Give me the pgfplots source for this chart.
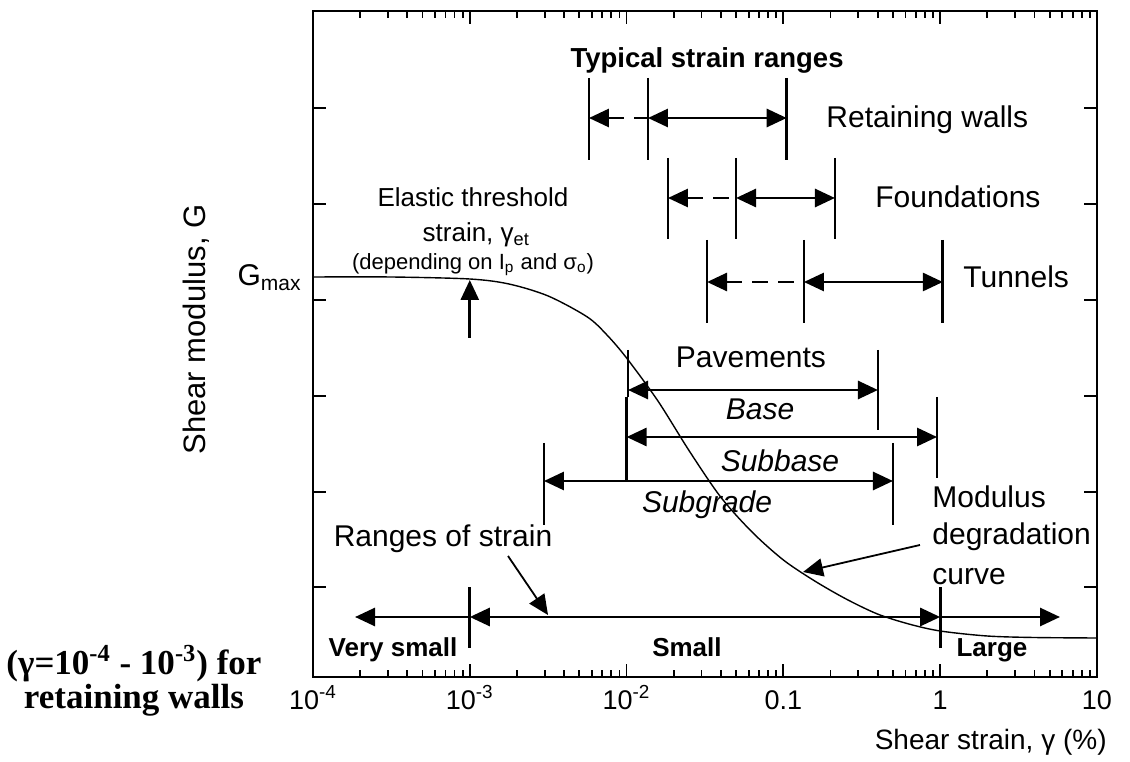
\documentclass[border=0pt]{standalone}
\usepackage{fontspec}
\setmainfont{Liberation Sans}
\newfontfamily\timesfont{Liberation Serif}
\usepackage{pgfplots}
\pgfplotsset{compat=1.18}
\usetikzlibrary{arrows.meta}
\newcommand\fs[1]{\fontsize{#1}{#1}\selectfont}
\tikzset{
  tip/.tip={Triangle[length=10pt,width=9pt]},
  rng/.style={line width=1.4pt, {tip}-{tip}},
  lrng/.style={line width=1.4pt, {tip}-},
  rrng/.style={line width=1.4pt, -{tip}},
  drng/.style={line width=1.4pt, {tip}-, dash pattern=on 8pt off 5pt},
  bar/.style={line width=1.4pt},
  ptr/.style={line width=0.9pt, -{Triangle[length=10pt,width=9pt]}},
  txt/.style={inner sep=0pt, text height=0.72em, text depth=0.2em, yshift=-2.25pt},
}
\begin{document}
\begin{tikzpicture}
\begin{axis}[
  scale only axis, width=392pt, height=333pt,
  xmode=log, xmin=1e-4, xmax=10, ymin=0, ymax=666,
  xticklabels={,10\textsuperscript{-4},10\textsuperscript{-3},10\textsuperscript{-2},0.1,1,10},
  ytick={90,185,281,377,473,569}, yticklabels={},
  tick align=inside, major tick length=6.5pt, minor tick length=3.5pt,
  every tick/.style={black, line width=0.9pt},
  axis line style={line width=1.3pt},
  xticklabel style={font=\fs{13.5}, text height=0.95em, text depth=0.2em, yshift=-3pt},
  clip=false,
]
% modulus degradation curve
\addplot[black, line width=0.7pt, smooth] coordinates {
 (1e-4,400) (3.162e-4,400) (1e-3,398) (1.778e-3,393) (3.162e-3,381)
 (5.623e-3,360) (7.499e-3,342) (1e-2,319) (1.585e-2,276) (2.512e-2,226) (3.981e-2,180)
 (6.310e-2,145) (0.1,117) (0.1585,96) (0.2512,78) (0.3981,63)
 (0.631,53) (1,46) (1.995,41) (3.981,39.5) (10,39)};

% Retaining walls
\addplot[bar] coordinates {(5.754e-3,599) (5.754e-3,517)};
\addplot[bar] coordinates {(1.369e-2,599) (1.369e-2,517)};
\addplot[bar] coordinates {(0.105,599) (0.105,517)};
\addplot[drng] coordinates {(5.754e-3,559) (1.369e-2,559)};
\addplot[rng] coordinates {(1.369e-2,559) (0.105,559)};
% Foundations
\addplot[bar] coordinates {(1.836e-2,519) (1.836e-2,438)};
\addplot[bar] coordinates {(4.99e-2,519) (4.99e-2,438)};
\addplot[bar] coordinates {(0.2133,519) (0.2133,438)};
\addplot[drng] coordinates {(1.836e-2,479) (4.99e-2,479)};
\addplot[rng] coordinates {(4.99e-2,479) (0.2133,479)};
% Tunnels
\addplot[bar] coordinates {(3.26e-2,437) (3.26e-2,354)};
\addplot[bar] coordinates {(0.1352,437) (0.1352,354)};
\addplot[bar] coordinates {(1.04,437) (1.04,354)};
\addplot[drng] coordinates {(3.26e-2,395) (0.1352,395)};
\addplot[rng] coordinates {(0.1352,395) (1.04,395)};
% Pavements / Base
\addplot[bar] coordinates {(1.021e-2,327) (1.021e-2,280)};
\addplot[bar] coordinates {(0.401,327) (0.401,247)};
\addplot[rng] coordinates {(1.021e-2,287) (0.401,287)};
\addplot[bar] coordinates {(1.0e-2,280) (1.0e-2,197)};
\addplot[bar] coordinates {(0.955,280) (0.955,199)};
\addplot[rng] coordinates {(1.0e-2,240) (0.955,240)};
% Subgrade
\addplot[bar] coordinates {(2.972e-3,234) (2.972e-3,152)};
\addplot[bar] coordinates {(0.500,234) (0.500,152)};
\addplot[rng] coordinates {(2.972e-3,196) (0.500,196)};
% ranges of strain
\addplot[bar] coordinates {(1e-3,90) (1e-3,29)};
\addplot[bar] coordinates {(1,90) (1,29)};
\addplot[lrng] coordinates {(1.854e-4,60) (1e-3,60)};
\addplot[rng] coordinates {(1e-3,60) (1,60)};
\addplot[rrng] coordinates {(1,60) (5.81,60)};
% pointers
\addplot[ptr] coordinates {(1.753e-3,121) (3.155e-3,62)};
\addplot[ptr] coordinates {(0.743,132) (0.1334,105)};
\addplot[line width=1.4pt, -{Triangle[length=10pt,width=9pt]}] coordinates {(1e-3,339) (1e-3,397)};

% texts
\node[txt, font=\fs{13.75}\bfseries] at (axis cs:3.26e-2,619) {Typical strain ranges};
\node[txt, anchor=west, font=\fs{15}] at (axis cs:0.187,559) {Retaining walls};
\node[txt, anchor=west, font=\fs{15}] at (axis cs:0.384,479) {Foundations};
\node[txt, anchor=west, font=\fs{15}] at (axis cs:1.397,399) {Tunnels};
\node[txt, font=\fs{15}] at (axis cs:6.21e-2,319) {Pavements};
\node[txt, font=\fs{15}\itshape] at (axis cs:7.10e-2,267) {Base};
\node[txt, font=\fs{15}\itshape] at (axis cs:9.51e-2,215) {Subbase};
\node[txt, font=\fs{15}\itshape] at (axis cs:3.26e-2,174) {Subgrade};
\node[txt, font=\fs{15}] at (axis cs:6.75e-4,140) {Ranges of strain};
\node[txt, font=\fs{13}\bfseries] at (axis cs:3.24e-4,30) {Very small};
\node[txt, font=\fs{13}\bfseries] at (axis cs:2.427e-2,30) {Small};
\node[txt, font=\fs{13}\bfseries] at (axis cs:2.14,30) {Large};
\node[txt, anchor=west, font=\fs{15}] at (axis cs:0.887,179) {Modulus};
\node[txt, anchor=west, font=\fs{15}] at (axis cs:0.887,142) {degradation};
\node[txt, anchor=west, font=\fs{15}] at (axis cs:0.887,102) {curve};
\node[txt, font=\fs{13}] at (axis cs:1.048e-3,480) {Elastic threshold};
\node[txt, font=\fs{13}] at (axis cs:1.1e-3,445) {strain, γ\textsubscript{et}};
\node[txt, font=\fs{11}] at (axis cs:1.048e-3,417) {(depending on I\textsubscript{p} and σ\textsubscript{o})};
\node[txt, anchor=east, font=\fs{15}] at (rel axis cs:-0.014,0.602) {G\textsubscript{max}};
\node[txt, rotate=90, font=\fs{15.5}] at (rel axis cs:-0.1441,0.5285) {Shear modulus, G};
\node[txt, anchor=east, font=\fs{14}] at (rel axis cs:1.0128,-0.0946) {Shear strain, γ (\%)};
\node[align=center, inner sep=0pt, font=\fs{17.5}\timesfont\bfseries] at (rel axis cs:-0.2283,-0.006)
  {(γ=10\textsuperscript{-4} - 10\textsuperscript{-3}) for\\[-0.5pt]retaining walls};
\end{axis}
\pgfresetboundingbox
\path (current axis.south west) ++(-156.5pt,-42pt) rectangle ++(565pt,380.5pt);
\end{tikzpicture}
\end{document}
